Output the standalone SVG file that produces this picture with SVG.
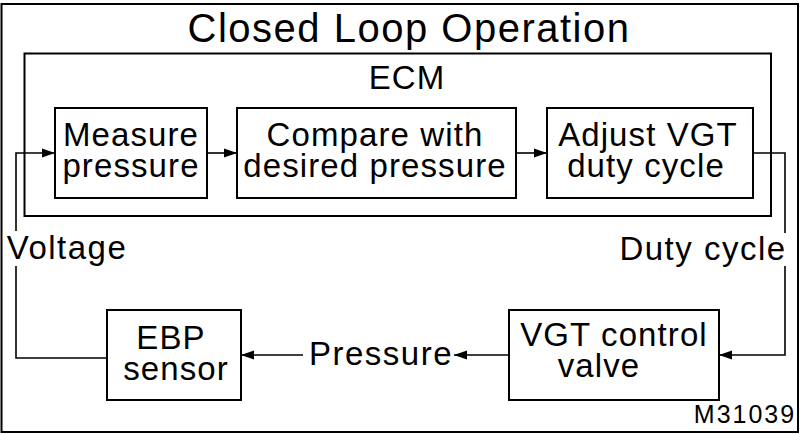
<svg xmlns="http://www.w3.org/2000/svg" width="800" height="434" viewBox="0 0 800 434">
<style>
.box{fill:#fff;stroke:#000;stroke-width:2}
.frame{fill:none;stroke:#000;stroke-width:2}
.t{font-family:"Liberation Sans",Arial,sans-serif;fill:#000;text-anchor:middle}
.n{font-size:33px;letter-spacing:1.1px}
.l{font-size:33px;letter-spacing:1.5px}
.c{fill:none;stroke:#000;stroke-width:1.6}
</style>
<defs>
<marker id="ah" markerUnits="userSpaceOnUse" markerWidth="14" markerHeight="10" refX="13" refY="5" orient="auto">
<path d="M0,0.5 L13,5 L0,9.5 z" fill="#000"/>
</marker>
</defs>
<rect x="0" y="0" width="800" height="434" fill="#fff"/>
<rect class="frame" x="1.5" y="4" width="796.5" height="428"/>
<text class="t" x="409" y="42" style="font-size:40px;letter-spacing:1.5px">Closed Loop Operation</text>
<g id="ecm">
<rect class="frame" x="24.5" y="53.5" width="746.5" height="162.5"/>
<text class="t n" x="407" y="89">ECM</text>
</g>
<g id="connectors">
<path class="c" d="M107,358 H16 V266 M16,231 V153 H55" marker-end="url(#ah)"/>
<path class="c" d="M207,153 H237" marker-end="url(#ah)"/>
<path class="c" d="M516,153 H547" marker-end="url(#ah)"/>
<path class="c" d="M753,153 H785 V233 M785,266 V355 H719" marker-end="url(#ah)"/>
<path class="c" d="M509,355 H454" marker-end="url(#ah)"/>
<path class="c" d="M303,355 H241" marker-end="url(#ah)"/>
</g>
<g id="measure">
<rect class="box" x="55" y="108" width="152" height="90"/>
<text class="t n" x="131" y="146">Measure</text>
<text class="t n" x="131" y="177">pressure</text>
</g>
<g id="compare">
<rect class="box" x="237" y="108" width="279" height="90"/>
<text class="t n" x="375" y="146">Compare with</text>
<text class="t n" x="375" y="177">desired pressure</text>
</g>
<g id="adjust">
<rect class="box" x="547" y="108" width="206" height="90"/>
<text class="t n" x="648" y="146">Adjust VGT</text>
<text class="t n" x="646" y="177">duty cycle</text>
</g>
<g id="ebp">
<rect class="box" x="107" y="310" width="134" height="90"/>
<text class="t n" x="171" y="349">EBP</text>
<text class="t n" x="176" y="380">sensor</text>
</g>
<g id="vgt">
<rect class="box" x="509" y="310" width="210" height="90"/>
<text class="t n" x="614" y="346">VGT control</text>
<text class="t n" x="599" y="377">valve</text>
</g>
<g id="labels">
<text class="t l" x="67" y="259">Voltage</text>
<text class="t l" x="703" y="260">Duty cycle</text>
<text class="t l" x="381" y="365">Pressure</text>
<text class="t" x="745" y="423" style="font-size:25px;letter-spacing:2px">M31039</text>
</g>
</svg>
